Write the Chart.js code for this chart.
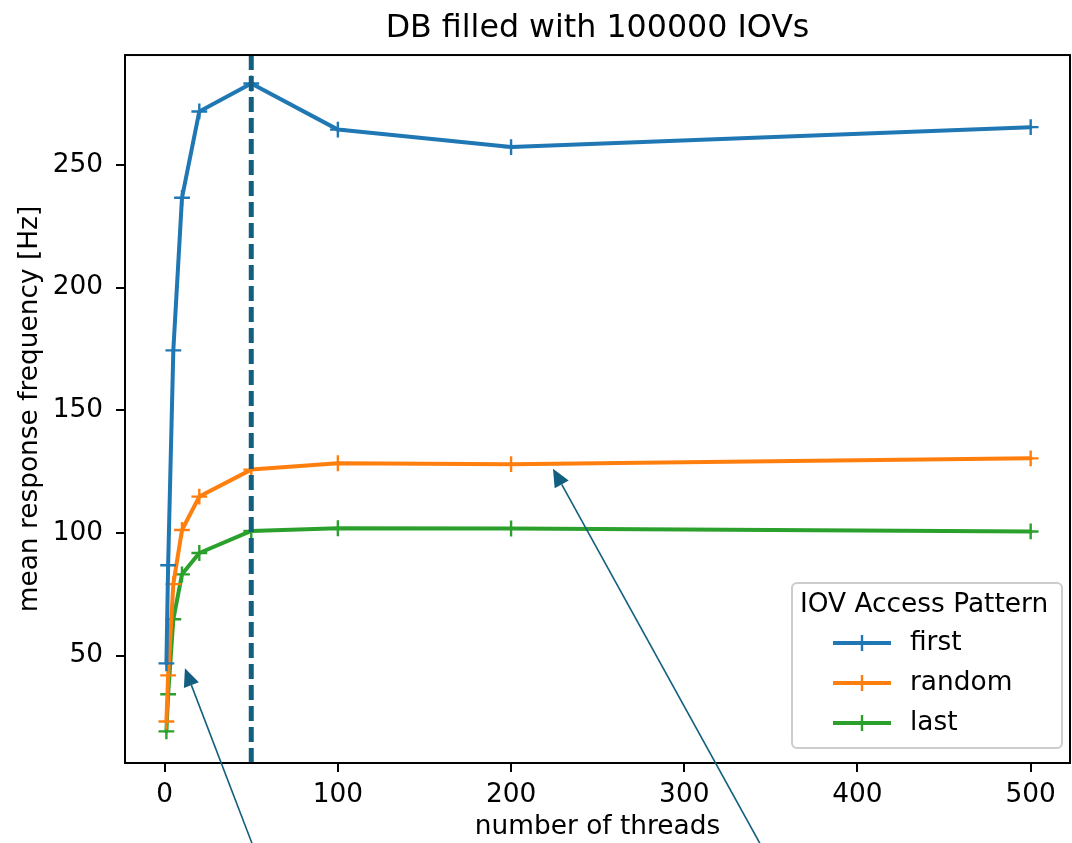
<!DOCTYPE html>
<html>
<head>
<meta charset="utf-8">
<title>DB filled with 100000 IOVs</title>
<script src="https://cdn.jsdelivr.net/npm/chart.js@4.4.1/dist/chart.umd.min.js"></script>
<style>
  html, body { margin: 0; padding: 0; background: #fff; }
  #wrap { width: 1072px; height: 843px; }
</style>
</head>
<body>
<div id="wrap"><canvas id="chart" width="1072" height="843"></canvas></div>
<script>
// number of client threads and mean response frequency per access pattern
const threads = [1, 2, 5, 10, 20, 50, 100, 200, 500];
const firstHz = [46.8, 86.8, 174.4, 236.6, 271.8, 283.2, 264.4, 257.3, 265.4];
const randomHz = [23.1, 41.9, 79.1, 101.2, 114.8, 125.8, 128.4, 128.0, 130.4];
const lastHz = [19.1, 34.2, 64.8, 83.1, 91.8, 100.8, 101.9, 101.8, 100.6];

const xTicks = [0, 100, 200, 300, 400, 500];
const yTicks = [50, 100, 150, 200, 250];
const markedThreads = 50;

// annotation arrows, tail -> head, in data units
const arrows = [
  { from: [50.4, -26.5], to: [11.7, 44.8] },
  { from: [343.6, -26.5], to: [224.2, 126.2] }
];

const FONT = 'DejaVu Sans';
const LABEL_SIZE = 26.4;
const ACCENT = '#135f80';

function pts(ys) {
  return threads.map((t, i) => ({ x: t, y: ys[i] }));
}

function series(label, ys, color) {
  return {
    label,
    data: pts(ys),
    borderColor: color,
    backgroundColor: color,
    borderWidth: 4,
    pointStyle: 'cross',
    pointRadius: 7.9,
    pointHoverRadius: 7.9,
    pointBorderWidth: 2.4,
    pointBorderColor: color,
    tension: 0,
    fill: false,
    borderJoinStyle: 'round',
    borderCapStyle: 'round'
  };
}

// keep the plot area flush: no extra room reserved for edge tick labels
function noLabelPadding(s) {
  s.paddingLeft = 0;
  s.paddingRight = 0;
  s.paddingTop = 0;
  s.paddingBottom = 0;
}

// vertical dashed marker, axes frame, legend and arrows
const overlay = {
  id: 'overlay',
  afterDatasetsDraw(chart) {
    const { ctx, chartArea: a, scales } = chart;
    const px = scales.x.getPixelForValue(markedThreads);

    ctx.save();
    ctx.strokeStyle = ACCENT;
    ctx.lineWidth = 5;
    ctx.setLineDash([15, 6]);
    ctx.beginPath();
    ctx.moveTo(px, a.top);
    ctx.lineTo(px, a.bottom);
    ctx.stroke();
    ctx.restore();

    ctx.save();
    ctx.strokeStyle = '#000';
    ctx.lineWidth = 2;
    ctx.strokeRect(a.left, a.top, a.right - a.left, a.bottom - a.top);
    ctx.restore();

    // legend, lower right
    const w = 270, h = 165;
    const x0 = a.right - 8 - w, y0 = a.bottom - 15 - h;
    ctx.save();
    ctx.fillStyle = 'rgba(255,255,255,0.8)';
    ctx.strokeStyle = '#cccccc';
    ctx.lineWidth = 2;
    ctx.beginPath();
    ctx.roundRect(x0, y0, w, h, 5);
    ctx.fill();
    ctx.stroke();

    ctx.fillStyle = '#000';
    ctx.font = `${LABEL_SIZE}px "${FONT}"`;
    ctx.textAlign = 'center';
    ctx.textBaseline = 'middle';
    ctx.fillText('IOV Access Pattern', x0 + w / 2 - 3, y0 + 22);

    ctx.textAlign = 'left';
    chart.data.datasets.forEach((ds, i) => {
      const y = y0 + 60 + i * 40;
      ctx.strokeStyle = ds.borderColor;
      ctx.lineWidth = 4;
      ctx.beginPath();
      ctx.moveTo(x0 + 41, y);
      ctx.lineTo(x0 + 99, y);
      ctx.stroke();
      ctx.lineWidth = 2.4;
      ctx.beginPath();
      ctx.moveTo(x0 + 70 - 7.9, y);
      ctx.lineTo(x0 + 70 + 7.9, y);
      ctx.moveTo(x0 + 70, y - 7.9);
      ctx.lineTo(x0 + 70, y + 7.9);
      ctx.stroke();
      ctx.fillStyle = '#000';
      ctx.fillText(ds.label, x0 + 118, y);
    });
    ctx.restore();
  },
  afterDraw(chart) {
    const { ctx, scales } = chart;
    ctx.save();
    ctx.strokeStyle = ACCENT;
    ctx.fillStyle = ACCENT;
    ctx.lineWidth = 1.6;
    arrows.forEach(ar => {
      const x1 = scales.x.getPixelForValue(ar.from[0]);
      const y1 = scales.y.getPixelForValue(ar.from[1]);
      const x2 = scales.x.getPixelForValue(ar.to[0]);
      const y2 = scales.y.getPixelForValue(ar.to[1]);
      const ang = Math.atan2(y2 - y1, x2 - x1);
      const len = 18, half = 8;
      const bx = x2 - Math.cos(ang) * len, by = y2 - Math.sin(ang) * len;
      ctx.beginPath();
      ctx.moveTo(x1, y1);
      ctx.lineTo(bx, by);
      ctx.stroke();
      ctx.beginPath();
      ctx.moveTo(x2, y2);
      ctx.lineTo(bx - Math.sin(ang) * half, by + Math.cos(ang) * half);
      ctx.lineTo(bx + Math.sin(ang) * half, by - Math.cos(ang) * half);
      ctx.closePath();
      ctx.fill();
    });
    ctx.restore();
  }
};

Chart.defaults.font.family = FONT;
Chart.defaults.color = '#000';

new Chart(document.getElementById('chart'), {
  type: 'line',
  data: {
    datasets: [
      series('first', firstHz, '#1f77b4'),
      series('random', randomHz, '#ff7f0e'),
      series('last', lastHz, '#2ca02c')
    ]
  },
  options: {
    responsive: false,
    animation: false,
    devicePixelRatio: 1,
    layout: { autoPadding: false, padding: { left: 0, right: 2, top: 0, bottom: 0 } },
    plugins: {
      legend: { display: false },
      tooltip: { enabled: false },
      title: {
        display: true,
        fullSize: false,
        text: 'DB filled with 100000 IOVs',
        color: '#000',
        font: { size: 31.7, weight: 'normal' },
        padding: { top: 10, bottom: 7 }
      }
    },
    scales: {
      x: {
        type: 'linear',
        min: -22.9,
        max: 522.7,
        afterBuildTicks: s => { s.ticks = xTicks.map(v => ({ value: v })); },
        afterFit: s => { s.height = 80; noLabelPadding(s); },
        border: { display: false },
        grid: { drawOnChartArea: false, drawTicks: true, tickLength: 9, color: '#000', lineWidth: 2 },
        ticks: { font: { size: LABEL_SIZE }, padding: 7, maxRotation: 0 },
        title: { display: true, text: 'number of threads', font: { size: LABEL_SIZE }, padding: { top: 0, bottom: 0 } }
      },
      y: {
        type: 'linear',
        min: 6.2,
        max: 294.8,
        afterBuildTicks: s => { s.ticks = yTicks.map(v => ({ value: v })); },
        afterFit: s => { s.width = 125; noLabelPadding(s); },
        border: { display: false },
        grid: { drawOnChartArea: false, drawTicks: true, tickLength: 9, color: '#000', lineWidth: 2 },
        ticks: { font: { size: LABEL_SIZE }, padding: 13 },
        title: { display: true, text: 'mean response frequency [Hz]', font: { size: LABEL_SIZE }, padding: { top: 14, bottom: 0 } }
      }
    }
  },
  plugins: [overlay]
});
</script>
</body>
</html>
